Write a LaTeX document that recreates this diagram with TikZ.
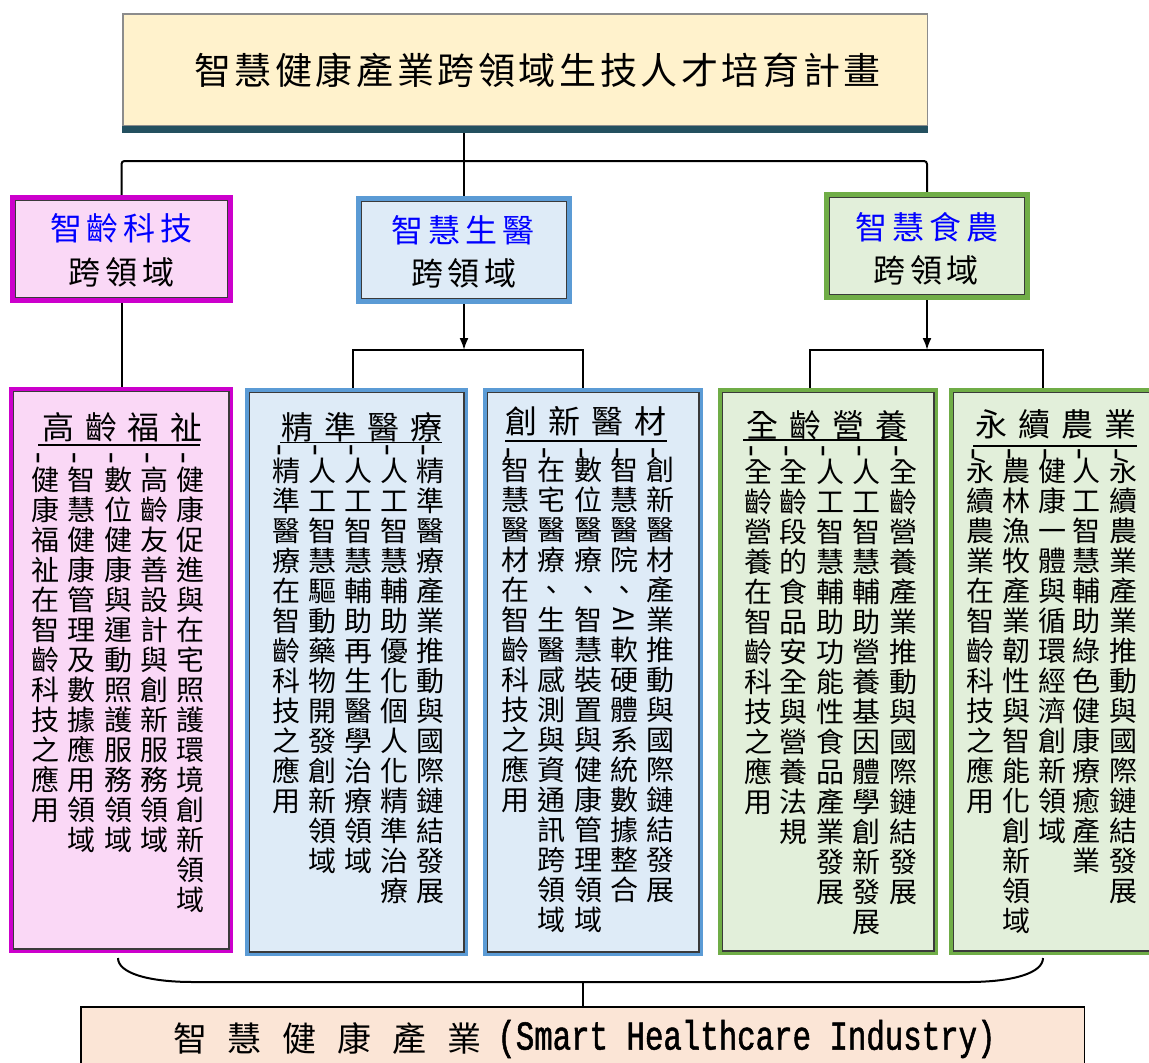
\documentclass[tikz,border=0pt]{standalone}
\usepackage{fontspec}
\setmainfont{Noto Sans CJK TC}
\newfontfamily\monoc[FakeStretch=0.75,FakeBold=1.2]{Liberation Mono}
\usepackage{graphicx}
\usetikzlibrary{arrows.meta}
\pgfdeclarelayer{bg}
\pgfsetlayers{bg,main}
\definecolor{topfill}{HTML}{FFF2CC}
\definecolor{topborder}{HTML}{8C8C8C}
\definecolor{shadowc}{HTML}{23505F}
\definecolor{pinkc}{HTML}{FAD8F6}
\definecolor{magentac}{HTML}{CC00CC}
\definecolor{bluefill}{HTML}{DEEBF7}
\definecolor{blueborder}{HTML}{5B9BD5}
\definecolor{greenfill}{HTML}{E2EFDA}
\definecolor{greenborder}{HTML}{70AD47}
\definecolor{bottomfill}{HTML}{FBE5D6}
\definecolor{innerc}{HTML}{3A3A3A}
\definecolor{headblue}{HTML}{0000FF}
\makeatletter
\newcommand\spacedtext[2]{\def\sp@gap{#1}\let\sp@sep\relax\@tfor\sp@c:=#2\do{\sp@sep\sp@c\def\sp@sep{\hspace{\sp@gap}}}}
\newcommand\vcol[1]{\vtop{\baselineskip=30pt\lineskiplimit=-100pt\lineskip=0pt\@tfor\vc@c:=#1\do{\hbox to 30pt{\hss\vc@c\hss}}}}
\makeatother
\newcommand\boxat[7]{%
  \node[#6, line width=#7pt, minimum width={#4-#2-#7}, minimum height={#5-#3-#7}, inner sep=0pt] (#1) at ({(#2+#4)/2},{(#3+#5)/2}) {};
  \draw[innerline] ([shift={(#7+0.65,#7+0.65)}]#1.north west) rectangle ([shift={(-#7-0.65,-#7-0.65)}]#1.south east);
}
\newcommand\colat[5]{%
  \node[coltext, anchor=base] (#1) at (#2,#3+10.6) {\vcol{#5}};
  \node[ticktext] (#1-t) at (#2-2.5,#4+1) {\rotatebox{90}{-}};
}
\begin{document}
\begin{tikzpicture}[x=1pt,y=-1pt,
  conn/.style={line width=2pt, black},
  innerline/.style={draw=innerc, line width=1.3pt},
  pinkbox/.style={draw=magentac, fill=pinkc},
  bluebox/.style={draw=blueborder, fill=bluefill},
  greenbox/.style={draw=greenborder, fill=greenfill},
  coltext/.style={inner sep=0pt, font=\fontsize{28}{30}\selectfont},
  ticktext/.style={inner sep=0pt, font=\fontsize{36}{36}\selectfont},
  headtext/.style={inner sep=0pt, font=\fontsize{32}{32}\selectfont},
  titletext/.style={inner sep=0pt, font=\fontsize{32}{32}\selectfont},
  uline/.style={line width=1.6pt, black}]
\useasboundingbox (0,0) rectangle (1149,1063);
\clip (0,0) rectangle (1149,1063);

% top box
\fill[shadowc] (122,118) rectangle (928,132.5);
\node[draw=topborder, fill=topfill, line width=1.5pt, minimum width=804.5, minimum height=111.5, inner sep=0pt] (T) at (525,69.5) {};
\node[inner sep=0pt, font=\fontsize{37}{37}\selectfont] (Tt) at (537.5,70) {\spacedtext{3.6pt}{智慧健康產業跨領域生技人才培育計畫}};

% header boxes
\boxat{H1}{9.6}{195}{233.4}{303}{pinkbox}{5}
\boxat{H2}{356}{196}{572}{304}{bluebox}{5}
\boxat{H3}{824}{192}{1030}{300}{greenbox}{5}
\node[headtext, text=headblue] (H1a) at (121.5,228) {\spacedtext{5pt}{智齡科技}};
\node[headtext] (H1b) at (121.5,272) {\spacedtext{5pt}{跨領域}};
\node[headtext, text=headblue] (H2a) at (463,230) {\spacedtext{5pt}{智慧生醫}};
\node[headtext] (H2b) at (464,273) {\spacedtext{5pt}{跨領域}};
\node[headtext, text=headblue] (H3a) at (927,227) {\spacedtext{5pt}{智慧食農}};
\node[headtext] (H3b) at (926,270) {\spacedtext{5pt}{跨領域}};

% content boxes
\boxat{C1}{9.3}{387}{233}{953}{pinkbox}{3.5}
\boxat{C2}{245}{388}{468}{956}{bluebox}{3.5}
\boxat{C3}{483}{388}{703}{956}{bluebox}{3.5}
\boxat{C4}{718}{388}{938}{955}{greenbox}{3.5}
\boxat{C5}{949}{388}{1165}{955}{greenbox}{3.5}

% bottom box
\node[draw=black, fill=bottomfill, line width=1.5pt, minimum width=1003.5, minimum height=72.5, inner sep=0pt] (B) at (582.5,1043) {};
\node[inner sep=0pt, font=\fontsize{34}{34}\selectfont] (Bt1) at (327.5,1039) {\spacedtext{21pt}{智慧健康產業}};
\node[inner sep=0pt, font=\fontsize{41}{41}\monoc] (Bt2) at (746.5,1039) {(Smart Healthcare Industry)};

% content titles
\node[titletext] (C1t) at (122.5,427) {\spacedtext{10.7pt}{高齡福祉}};
\node[titletext] (C2t) at (362,427) {\spacedtext{10.7pt}{精準醫療}};
\node[titletext] (C3t) at (586,421) {\spacedtext{10.7pt}{創新醫材}};
\node[titletext] (C4t) at (827,425) {\spacedtext{10.7pt}{全齡營養}};
\node[titletext] (C5t) at (1056,424) {\spacedtext{10.7pt}{永續農業}};
\draw[uline] (38,445) -- (200,445);
\draw[uline] (280,442.5) -- (442,442.5);
\draw[uline] (505,441) -- (667,441);
\draw[uline] (743,440) -- (907,440);
\draw[uline] (973,446) -- (1137,446);

% columns
\colat{c1a}{45.5}{480}{457}{健康福祉在智齡科技之應用}
\colat{c1b}{81.7}{480}{457}{智慧健康管理及數據應用領域}
\colat{c1c}{118.2}{480}{457}{數位健康與運動照護服務領域}
\colat{c1d}{154.2}{480}{457}{高齡友善設計與創新服務領域}
\colat{c1e}{190.6}{480}{457}{健康促進與在宅照護環境創新領域}

\colat{c2a}{286.7}{471}{449}{精準醫療在智齡科技之應用}
\colat{c2b}{322}{471}{449}{人工智慧驅動藥物開發創新領域}
\colat{c2c}{358.3}{471}{449}{人工智慧輔助再生醫學治療領域}
\colat{c2d}{394.3}{471}{449}{人工智慧輔助優化個人化精準治療}
\colat{c2e}{430.7}{471}{449}{精準醫療產業推動與國際鏈結發展}

\colat{c3a}{515.7}{470}{452}{智慧醫材在智齡科技之應用}
\colat{c3b}{551.7}{470}{452}{在宅醫療、生醫感測與資通訊跨領域}
\colat{c3c}{588}{470}{452}{數位醫療、智慧裝置與健康管理領域}
\colat{c3d}{624}{470}{452}{智慧醫院、{\rotatebox[origin=c]{-90}{AI}}軟硬體系統數據整合}
\colat{c3e}{660.7}{470}{452}{創新醫材產業推動與國際鏈結發展}

\colat{c4a}{758.3}{472}{450}{全齡營養在智齡科技之應用}
\colat{c4b}{793.3}{472}{450}{全齡段的食品安全與營養法規}
\colat{c4c}{830}{472}{450}{人工智慧輔助功能性食品產業發展}
\colat{c4d}{866.7}{472}{450}{人工智慧輔助營養基因體學創新發展}
\colat{c4e}{903.3}{472}{450}{全齡營養產業推動與國際鏈結發展}

\colat{c5a}{980}{471}{453}{永續農業在智齡科技之應用}
\colat{c5b}{1016}{471}{453}{農林漁牧產業韌性與智能化創新領域}
\colat{c5c}{1052.7}{471}{453}{健康一體與循環經濟創新領域}
\colat{c5d}{1086.7}{471}{453}{人工智慧輔助綠色健康療癒產業}
\colat{c5e}{1123}{471}{453}{永續農業產業推動與國際鏈結發展}

% connectors
\coordinate (bar) at (0,161);
\coordinate (j2) at (353,350);
\coordinate (j3) at (583,350);
\coordinate (j4) at (810,350);
\coordinate (j5) at (1043,350);
\coordinate (bl) at (118,958);
\coordinate (br) at (1043,958);
\coordinate (bm) at (582.5,982);
\begin{pgfonlayer}{bg}
\draw[conn] (T.south -| H2.north) -- (H2.north);
\draw[conn, rounded corners=3pt] (H1.north) -- (H1.north |- bar) -- (H3.north |- bar) -- (H3.north);
\draw[conn] (H1.south) -- (H1.south |- C1.north);
\draw[conn] (j2 |- C2.north) -- (j2) -- (j3) -- (j3 |- C3.north);
\draw[conn] (j4 |- C4.north) -- (j4) -- (j5) -- (j5 |- C5.north);
\draw[conn, -{Latex[length=12pt,width=9pt]}] (H2.south) -- (H2.south |- j2);
\draw[conn, -{Latex[length=12pt,width=9pt]}] (H3.south) -- (H3.south |- j4);
\draw[conn] (bl) .. controls (118,973) and (148,982) .. (193,982) -- (968,982) .. controls (1013,982) and (1043,973) .. (br);
\draw[conn] (bm) -- (B.north);
\end{pgfonlayer}
\end{tikzpicture}
\end{document}
